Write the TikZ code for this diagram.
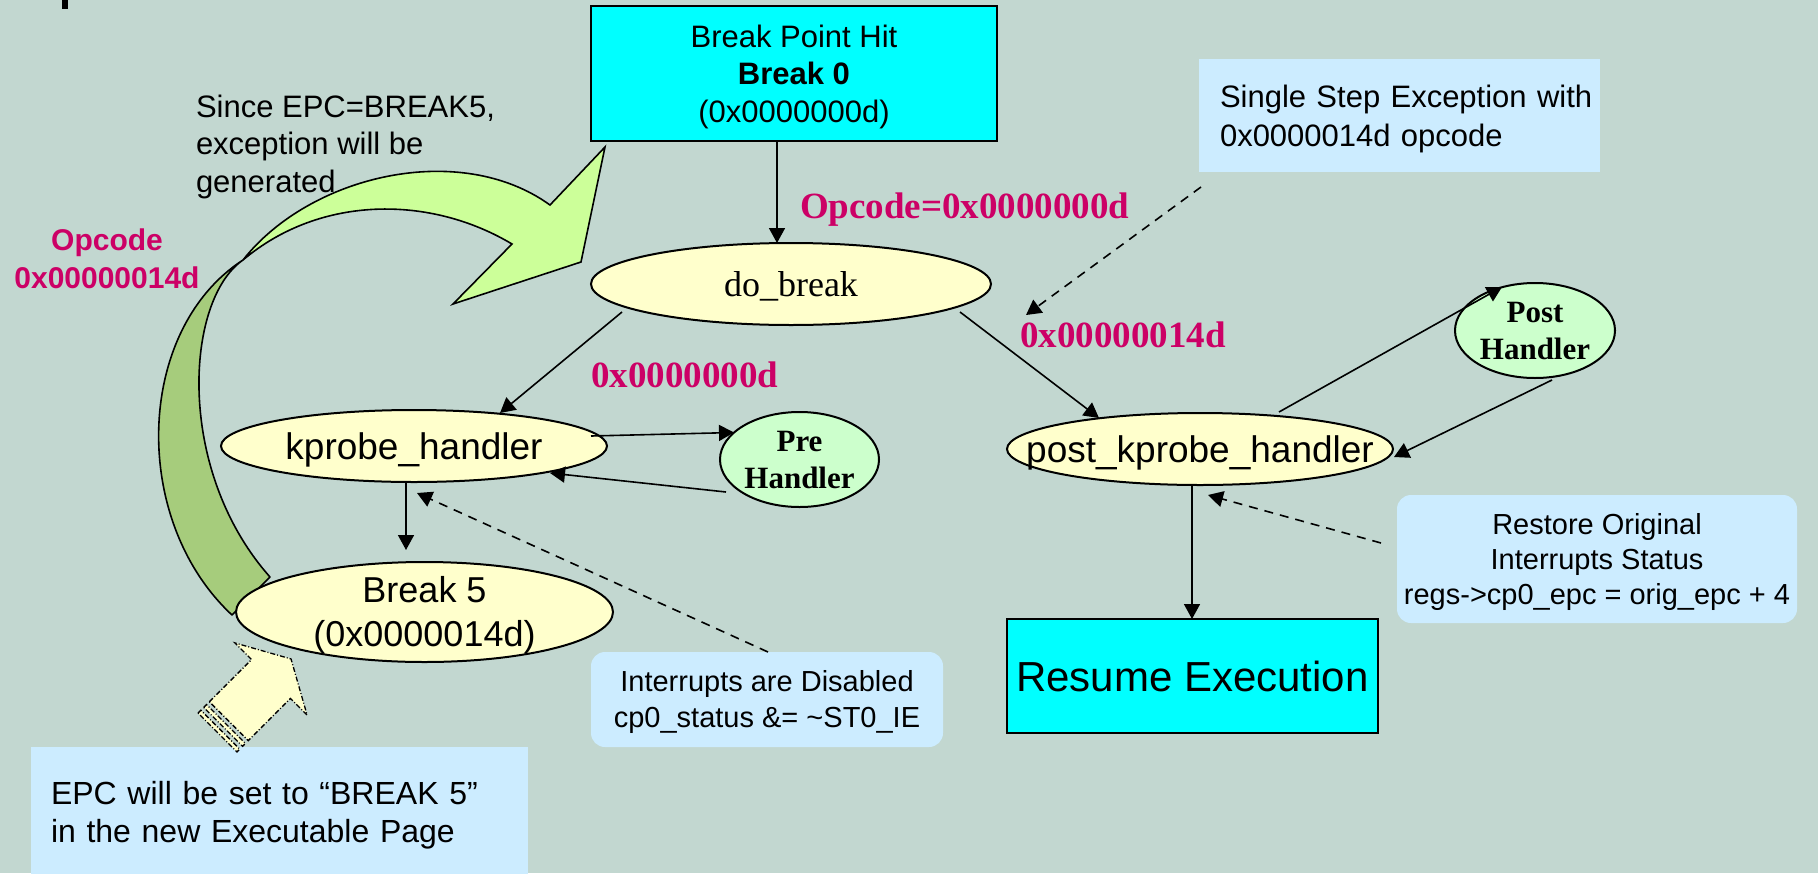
\documentclass[tikz,border=0pt]{standalone}
\usepackage{fontspec}
\setmainfont{Liberation Sans}
\newfontfamily\timesfam{Liberation Serif}
\usetikzlibrary{shapes.geometric,arrows.meta}

\definecolor{pagebg}{RGB}{194,215,208}
\definecolor{boxcyan}{RGB}{0,255,255}
\definecolor{ovalyellow}{RGB}{255,255,204}
\definecolor{ovalgreen}{RGB}{204,255,204}
\definecolor{noteblue}{RGB}{204,236,255}
\definecolor{opcodered}{RGB}{204,0,102}
\definecolor{ribbonlight}{RGB}{204,255,153}
\definecolor{ribbondark}{RGB}{166,204,124}

\newcommand\fsz[2]{\fontsize{#1pt}{#2pt}\selectfont}

\begin{document}
\begin{tikzpicture}[x=1pt,y=-1pt,
  every node/.style={inner sep=0pt, outer sep=0pt, text depth=0pt},
  cyanbox/.style={rectangle, draw=black, line width=2.5pt, fill=boxcyan},
  note/.style={rectangle, fill=noteblue},
  roundnote/.style={note, rounded corners=14pt},
  oval/.style={ellipse, draw=black, line width=2pt, fill=ovalyellow, inner xsep=-40pt, inner ysep=-8pt},
  handler/.style={oval, fill=ovalgreen},
  hexlabel/.style={anchor=base west, text=opcodered, font=\timesfam\bfseries\fsz{37}{40}},
  conn/.style={line width=1.6pt, -{Triangle[length=15pt,width=16pt]}},
  hint/.style={conn, dash pattern=on 9pt off 7pt},
  stripe/.style={draw=black, fill=ovalyellow, line width=1.3pt, dash pattern=on 5pt off 2pt on 1pt off 2pt},
  ribbon/.style={draw=black, line width=1.6pt, line join=round},
]
% page
\fill[pagebg] (0,0) rectangle (1818,873);
\useasboundingbox (0,0) rectangle (1818,873);
\fill[black] (62,0) rectangle (68,9);

% curved ribbon arrow on the left
\path[ribbon, fill=ribbondark] (232,615) .. controls (130,520) and (135,330) .. (243,260)
  .. controls (185,300) and (175,470) .. (270,577) -- cycle;
\path[ribbon, fill=ribbonlight, line join=miter] (243,260) .. controls (310,175) and (460,140) .. (550,205)
  -- (605,147) -- (581,262) -- (453,304) -- (512,244)
  .. controls (430,195) and (320,195) .. (243,260) -- cycle;

% free texts (multi-line nodes: baseline is the last line)
\node[anchor=north west, align=left, font=\fsz{31}{37.5}, text height=97.2pt] (since) at (196,94.8)
  {Since EPC=BREAK5,\\exception will be\\generated};
\node[anchor=north, align=center, text=opcodered, font=\bfseries\fsz{30}{38}, text height=59.5pt] (opleft) at (107,228.5)
  {Opcode\\0x00000014d};

% boxes
\node[cyanbox, minimum width=406pt, minimum height=135pt, align=center, font=\fsz{31}{37.5}, text height=97.2pt] (bp) at (794,73.5)
  {Break Point Hit\\\textbf{Break 0}\\(0x0000000d)};
\node[cyanbox, minimum width=371pt, minimum height=114pt, font=\fsz{42}{48}, text height=30pt] (resume) at (1192.5,676)
  {Resume Execution};
\node[roundnote, minimum width=352pt, minimum height=95pt, align=center, font=\fsz{29}{36}, text height=56.8pt] (intr) at (767,699.5)
  {Interrupts are Disabled\\cp0\_status \&= \textasciitilde ST0\_IE};
\node[roundnote, minimum width=400pt, minimum height=128pt, align=center, font=\fsz{29}{35}, text height=90.8pt] (restore) at (1597,559)
  {Restore Original\\Interrupts Status\\regs->cp0\_epc = orig\_epc + 4};
% boxes with a fixed text width (baseline is the first line)
\node[note, text width=401pt, minimum height=113pt, align=left, font=\fsz{31}{39}, text height=22.2pt, text depth=39pt] (single) at (1399.5,115.5)
  {\hspace*{21pt}Single Step Exception with\\\hspace*{21pt}0x0000014d opcode};
\node[note, text width=497pt, minimum height=130pt, align=left, font=\fsz{32}{38}, text height=22.9pt, text depth=38pt] (epc) at (279.5,812)
  {\hspace*{20pt}EPC will be set to “BREAK 5”\\\hspace*{20pt}in the new Executable Page};

% ovals
\node[oval, minimum width=400pt, minimum height=82pt, font=\timesfam\fsz{36}{40}, text height=24.6pt] (dob) at (791,284)
  {do\_break};
\node[oval, minimum width=386pt, minimum height=72pt, font=\fsz{37}{42}, text height=26.5pt] (kp) at (414,446)
  {kprobe\_handler};
\node[handler, minimum width=159pt, minimum height=95pt, align=center, font=\timesfam\bfseries\fsz{31}{37}, text height=58pt] (pre) at (799.5,459.5)
  {Pre\\Handler};
\node[oval, minimum width=377pt, minimum height=100pt, align=center, font=\fsz{36}{44}, text height=69.8pt] (brk5) at (424.5,612)
  {Break 5\\(0x0000014d)};
\node[oval, inner xsep=-60pt, minimum width=386pt, minimum height=72pt, font=\fsz{37}{42}, text height=26.5pt] (pk) at (1200,449)
  {post\_kprobe\_handler};
\node[handler, minimum width=160pt, minimum height=95pt, align=center, font=\timesfam\bfseries\fsz{31}{37}, text height=58pt] (post) at (1535,330.5)
  {Post\\Handler};

% opcode labels
\node[hexlabel] (opc) at (800,218) {Opcode=0x0000000d};
\node[hexlabel] (hexa) at (591,387) {0x0000000d};
\node[hexlabel] (hexb) at (1020,347) {0x00000014d};
\coordinate (sstip) at (1026,315);

% connectors
\draw[conn] ([shift={(-17,67.5)}]bp.center) -- ([shift={(-14,-41)}]dob.center);
\draw[conn] ([shift={(-169,28)}]dob.center) -- ([shift={(86,-33)}]kp.center);
\draw[conn] ([shift={(169,28)}]dob.center) -- ([shift={(-101,-31)}]pk.center);
\draw[conn] ([shift={(177,-10)}]kp.center) -- ([shift={(-65.5,-27)}]pre.center);
\draw[conn] ([shift={(-73.5,32.5)}]pre.center) -- ([shift={(136,27)}]kp.center);
\draw[conn] ([shift={(-8,36)}]kp.center) -- ([shift={(-18.5,-62)}]brk5.center);
\draw[hint] ([shift={(1,-47.5)}]intr.center) -- ([shift={(3,47)}]kp.center);
\draw[conn] ([shift={(79,-37)}]pk.center) -- ([shift={(-33,-43.5)}]post.center);
\draw[conn] ([shift={(17,49.5)}]post.center) -- ([shift={(194,8)}]pk.center);
\draw[conn] ([shift={(-8,36)}]pk.center) -- ([shift={(-0.5,-57)}]resume.center);
\draw[hint] ([shift={(-216,-16)}]restore.center) -- ([shift={(8,46)}]pk.center);
\draw[hint] ([shift={(-198.5,71.5)}]single.center) -- (sstip);

% striped block arrow pointing at Break 5
\begin{scope}[shift={(217.5,732.5)}, rotate=45]
  \path[stripe] (16,-27.5) -- (75.7,-27.5) -- (75.7,-51) -- (104,0) -- (75.7,51) -- (75.7,27.5) -- (16,27.5) -- cycle;
  \path[stripe] (0,-27.5) -- (4,-27.5) -- (4,27.5) -- (0,27.5) -- cycle;
  \path[stripe] (8,-27.5) -- (12,-27.5) -- (12,27.5) -- (8,27.5) -- cycle;
\end{scope}
\end{tikzpicture}
\end{document}
